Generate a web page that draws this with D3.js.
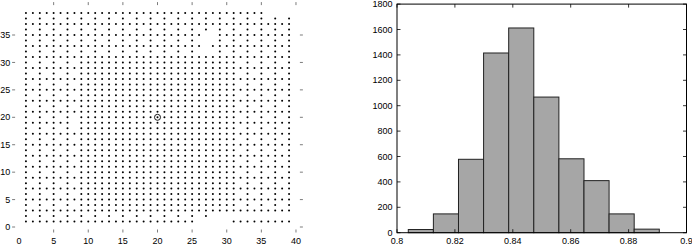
<!DOCTYPE html>
<html><head><meta charset="utf-8">
<script src="https://cdn.jsdelivr.net/npm/d3@7"></script>
<style>
body{margin:0;background:#fff}
svg{display:block}
text{font-family:"Liberation Sans",Arial,Helvetica,sans-serif;font-size:9px;fill:#000}
</style>
</head><body>
<svg id="c" width="692" height="246"></svg>
<script>
// ---- left panel: point grid. Each row (y from 39 at top down to 1) is a list of runs [fromX, toX, stepX]
const F  = [[1, 39, 1]];                         // complete row
const SP = [[1, 39, 2]];                         // every other column
const DE = [[1, 7, 2], [9, 31, 1], [33, 39, 2]]; // dense centre, sparse edges
const gridRowRuns = [
  [[1, 35, 1]],               // 39
  SP,                         // 38
  F,                          // 37
  SP,                         // 36
  [[1, 26, 1], [29, 39, 1]],  // 35
  [[1, 25, 2], [29, 39, 2]],  // 34
  [[1, 26, 1], [28, 39, 1]],  // 33
  [[1, 25, 2], [29, 39, 2]],  // 32
  F, DE, F, DE, F, DE, F, DE, F, DE, F,   // 31 .. 21
  DE,                         // 20
  [[1, 7, 1], [9, 39, 1]],    // 19
  DE, F, DE, F, DE, F, DE, F, DE, F, DE, F, DE, F, DE, F,  // 18 .. 3
  [[1, 25, 2], [27, 27, 1]],  // 2
  [[1, 25, 1], [31, 39, 1]]   // 1
];
const gridTopY = 39;
const markedPoint = [20, 20];
const leftXTicks = [0, 5, 10, 15, 20, 25, 30, 35, 40];
const leftYTicks = [0, 5, 10, 15, 20, 25, 30, 35];

// ---- right panel: histogram
const histCounts = [25, 148, 578, 1415, 1612, 1068, 582, 410, 148, 28];
const histMin = 0.8039, histMax = 0.8906;
const rightXTicks = [0.8, 0.82, 0.84, 0.86, 0.88, 0.9];
const rightYTicks = [0, 200, 400, 600, 800, 1000, 1200, 1400, 1600, 1800];

const svg = d3.select("#c");

// ===== Left panel =====
const xL = d3.scaleLinear().domain([-1, 41]).range([12.1, 302.9]);
const yL = d3.scaleLinear().domain([-1, 41]).range([232.5, 2.1]);
const gL = svg.append("g");
const tickLen = 3;

const pts = [];
gridRowRuns.forEach((runs, i) => {
  const y = gridTopY - i;
  runs.forEach(([a, b, s]) => { for (let x = a; x <= b; x += s) pts.push([x, y]); });
});
gL.selectAll("circle.pt").data(pts).enter().append("circle")
  .attr("class", "pt")
  .attr("cx", d => xL(d[0])).attr("cy", d => yL(d[1])).attr("r", 1)
  .attr("fill", "#000");
gL.append("circle").attr("cx", xL(markedPoint[0])).attr("cy", yL(markedPoint[1]))
  .attr("r", 3).attr("fill", "none").attr("stroke", "#000").attr("stroke-width", 0.9);

const [x0, x1] = xL.range(), [y0, y1] = yL.range();
leftXTicks.forEach(t => {
  if (t !== 0) {
    gL.append("line").attr("x1", xL(t)).attr("x2", xL(t)).attr("y1", y0).attr("y2", y0 - tickLen)
      .attr("stroke", "#444").attr("stroke-width", 0.7);
    gL.append("line").attr("x1", xL(t)).attr("x2", xL(t)).attr("y1", y1).attr("y2", y1 + tickLen)
      .attr("stroke", "#444").attr("stroke-width", 0.7);
  }
  gL.append("text").attr("x", xL(t)).attr("y", 243.5).attr("text-anchor", "middle").text(t);
});
leftYTicks.forEach(t => {
  gL.append("line").attr("x1", x0).attr("x2", x0 + tickLen).attr("y1", yL(t)).attr("y2", yL(t))
    .attr("stroke", "#444").attr("stroke-width", 0.7);
  gL.append("line").attr("x1", x1).attr("x2", x1 - tickLen).attr("y1", yL(t)).attr("y2", yL(t))
    .attr("stroke", "#444").attr("stroke-width", 0.7);
  gL.append("text").attr("x", 10.2).attr("y", yL(t)).attr("dy", "0.35em").attr("text-anchor", "end").text(t);
});

// ===== Right panel =====
const xR = d3.scaleLinear().domain([0.8, 0.9]).range([397, 686.5]);
const yR = d3.scaleLinear().domain([0, 1800]).range([232.7, 4.1]);
const gR = svg.append("g");
const bw = (histMax - histMin) / histCounts.length;
const bins = histCounts.map((c, i) => ({x0: histMin + i * bw, x1: histMin + (i + 1) * bw, c}));
gR.selectAll("rect.bar").data(bins).enter().append("rect")
  .attr("class", "bar")
  .attr("x", d => xR(d.x0)).attr("width", d => xR(d.x1) - xR(d.x0))
  .attr("y", d => yR(d.c)).attr("height", d => yR(0) - yR(d.c))
  .attr("fill", "#a6a6a6").attr("stroke", "#222").attr("stroke-width", 1);

const [rx0, rx1] = xR.range(), [ry0, ry1] = yR.range();
gR.append("rect").attr("x", rx0).attr("y", ry1).attr("width", rx1 - rx0).attr("height", ry0 - ry1)
  .attr("fill", "none").attr("stroke", "#000").attr("stroke-width", 1);
const tl = 3.5;
rightXTicks.forEach(t => {
  gR.append("line").attr("x1", xR(t)).attr("x2", xR(t)).attr("y1", ry0).attr("y2", ry0 - tl).attr("stroke", "#000").attr("stroke-width", 0.8);
  gR.append("line").attr("x1", xR(t)).attr("x2", xR(t)).attr("y1", ry1).attr("y2", ry1 + tl).attr("stroke", "#000").attr("stroke-width", 0.8);
  gR.append("text").attr("x", xR(t)).attr("y", 243.5).attr("text-anchor", "middle").text(t);
});
rightYTicks.forEach(t => {
  gR.append("line").attr("x1", rx0).attr("x2", rx0 + tl).attr("y1", yR(t)).attr("y2", yR(t)).attr("stroke", "#000").attr("stroke-width", 0.8);
  gR.append("line").attr("x1", rx1).attr("x2", rx1 - tl).attr("y1", yR(t)).attr("y2", yR(t)).attr("stroke", "#000").attr("stroke-width", 0.8);
  gR.append("text").attr("x", 392.5).attr("y", yR(t)).attr("dy", "0.35em").attr("text-anchor", "end").text(t);
});
</script>
</body></html>
